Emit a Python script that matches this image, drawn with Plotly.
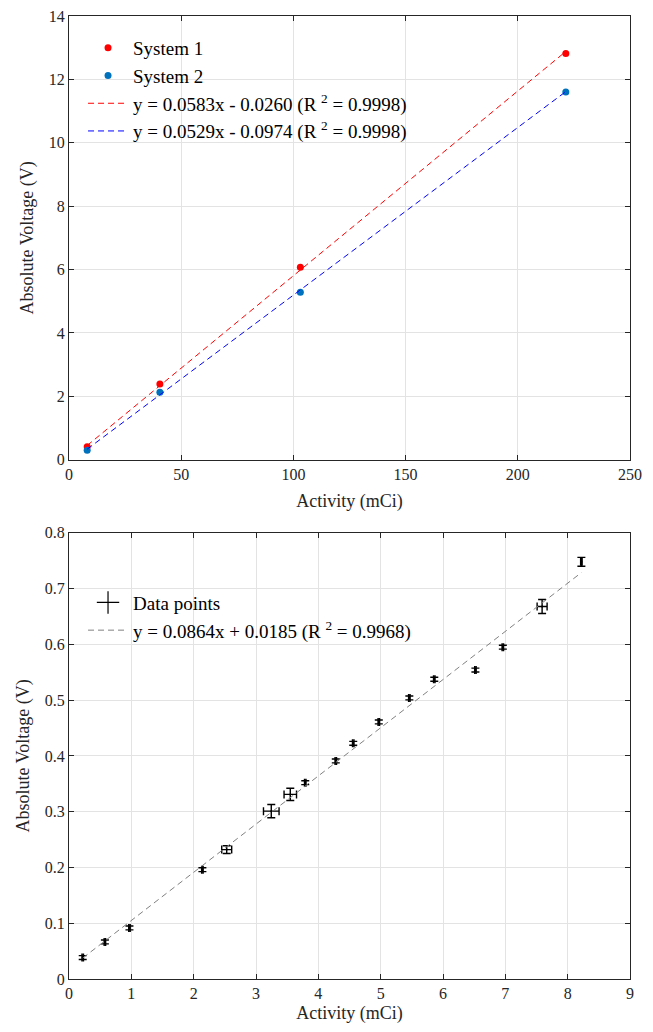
import plotly.graph_objects as go

# ---- Top chart data ----
sys1_activity = [8.1, 40.5, 103.1, 221.4]
sys1_voltage = [0.41, 2.39, 6.07, 12.82]
sys2_activity = [8.1, 40.5, 103.1, 221.4]
sys2_voltage = [0.30, 2.13, 5.28, 11.60]
fit1_slope, fit1_int = 0.0583, -0.0260
fit2_slope, fit2_int = 0.0529, -0.0974

# ---- Bottom chart data ----
act = [0.22, 0.576, 0.97, 2.14, 2.53, 3.245, 3.55, 3.79, 4.28, 4.56, 4.97, 5.46, 5.86, 6.52, 6.96, 7.59, 8.22]
volt = [0.0384, 0.0665, 0.0916, 0.196, 0.232, 0.301, 0.331, 0.352, 0.391, 0.4226, 0.461, 0.504, 0.5375, 0.554, 0.595, 0.668, 0.748]
act_err = [0.012, 0.012, 0.012, 0.012, 0.08, 0.125, 0.10, 0.012, 0.012, 0.012, 0.012, 0.012, 0.012, 0.012, 0.012, 0.08, 0.012]
volt_err = [0.0035, 0.0035, 0.0035, 0.0035, 0.007, 0.012, 0.011, 0.0035, 0.0035, 0.0035, 0.0035, 0.0035, 0.0035, 0.0035, 0.0035, 0.0125, 0.008]
fit3_slope, fit3_int = 0.0864, 0.0185

FONT = "Liberation Serif"
AX = "#262626"
GRID = "#e3e3e3"

fig = go.Figure()

x1 = [min(sys1_activity), max(sys1_activity)]
x3 = [min(act), max(act)]

fig.add_trace(go.Scatter(x=sys1_activity, y=sys1_voltage, mode="markers", name="System 1",
                         marker=dict(color="#ff0000", size=7), xaxis="x", yaxis="y", legend="legend"))
fig.add_trace(go.Scatter(x=sys2_activity, y=sys2_voltage, mode="markers", name="System 2",
                         marker=dict(color="#0072bd", size=7), xaxis="x", yaxis="y", legend="legend"))
fig.add_trace(go.Scatter(x=x1, y=[fit1_slope * v + fit1_int for v in x1], mode="lines",
                         name="y = 0.0583x - 0.0260 (R <sup>2</sup> = 0.9998)",
                         line=dict(color="#ff0000", width=1, dash="6px,4px"), xaxis="x", yaxis="y", legend="legend"))
fig.add_trace(go.Scatter(x=x1, y=[fit2_slope * v + fit2_int for v in x1], mode="lines",
                         name="y = 0.0529x - 0.0974 (R <sup>2</sup> = 0.9998)",
                         line=dict(color="#0000ff", width=1, dash="6px,4px"), xaxis="x", yaxis="y", legend="legend"))

# legend proxy for the error-bar series
fig.add_trace(go.Scatter(x=[None], y=[None], mode="markers", name="Data points",
                         marker=dict(symbol="cross-thin", size=16, color="black", line=dict(color="black", width=1.2)),
                         xaxis="x2", yaxis="y2", legend="legend2"))
fig.add_trace(go.Scatter(x=act, y=volt, mode="markers", name="Data points", showlegend=False,
                         marker=dict(symbol="circle", size=2, color="black"),
                         error_x=dict(type="data", array=act_err, color="black", thickness=1.4, width=4),
                         error_y=dict(type="data", array=volt_err, color="black", thickness=1.4, width=4),
                         xaxis="x2", yaxis="y2"))
fig.add_trace(go.Scatter(x=x3, y=[fit3_slope * v + fit3_int for v in x3], mode="lines",
                         name="y = 0.0864x + 0.0185 (R <sup>2</sup> = 0.9968)",
                         line=dict(color="#808080", width=1, dash="6px,4px"), xaxis="x2", yaxis="y2", legend="legend2"))

axis_common = dict(showline=True, linecolor=AX, linewidth=1, mirror="all", ticks="inside", ticklen=5,
                   tickcolor=AX, showgrid=True, gridcolor=GRID, zeroline=False, automargin=False,
                   ticklabeloverflow="allow",
                   tickfont=dict(family=FONT, size=16, color=AX))
title_font = dict(family=FONT, size=18, color=AX)

fig.update_layout(
    width=645, height=1016,
    margin=dict(l=61, r=23, t=8, b=45.3, autoexpand=False),
    paper_bgcolor="white", plot_bgcolor="white",
    font=dict(family=FONT, color=AX),
    xaxis=dict(axis_common, domain=[0, 1], range=[0, 250], dtick=50, anchor="y",
               title=dict(text="Activity (mCi)", font=title_font, standoff=12)),
    yaxis=dict(axis_common, domain=[0.5393, 1], range=[0, 14], dtick=2, anchor="x",
               title=dict(text="Absolute Voltage (V)", font=title_font, standoff=10)),
    xaxis2=dict(axis_common, domain=[0, 1], range=[0, 9], dtick=1, anchor="y2",
                title=dict(text="Activity (mCi)", font=title_font, standoff=10)),
    yaxis2=dict(axis_common, domain=[0, 0.4633], range=[0, 0.8], dtick=0.1, anchor="x2",
                title=dict(text="Absolute Voltage (V)", font=title_font, standoff=10)),
    legend=dict(x=0.025, y=0.9865, xanchor="left", yanchor="top", bgcolor="rgba(255,255,255,0)",
                font=dict(family=FONT, size=19, color="#000000"), tracegroupgap=0, itemwidth=40),
    legend2=dict(x=0.025, y=0.4106, xanchor="left", yanchor="top", bgcolor="rgba(255,255,255,0)",
                 font=dict(family=FONT, size=19, color="#000000"), tracegroupgap=0, itemwidth=40),
    showlegend=True,
)

fig.write_html("out.html")
